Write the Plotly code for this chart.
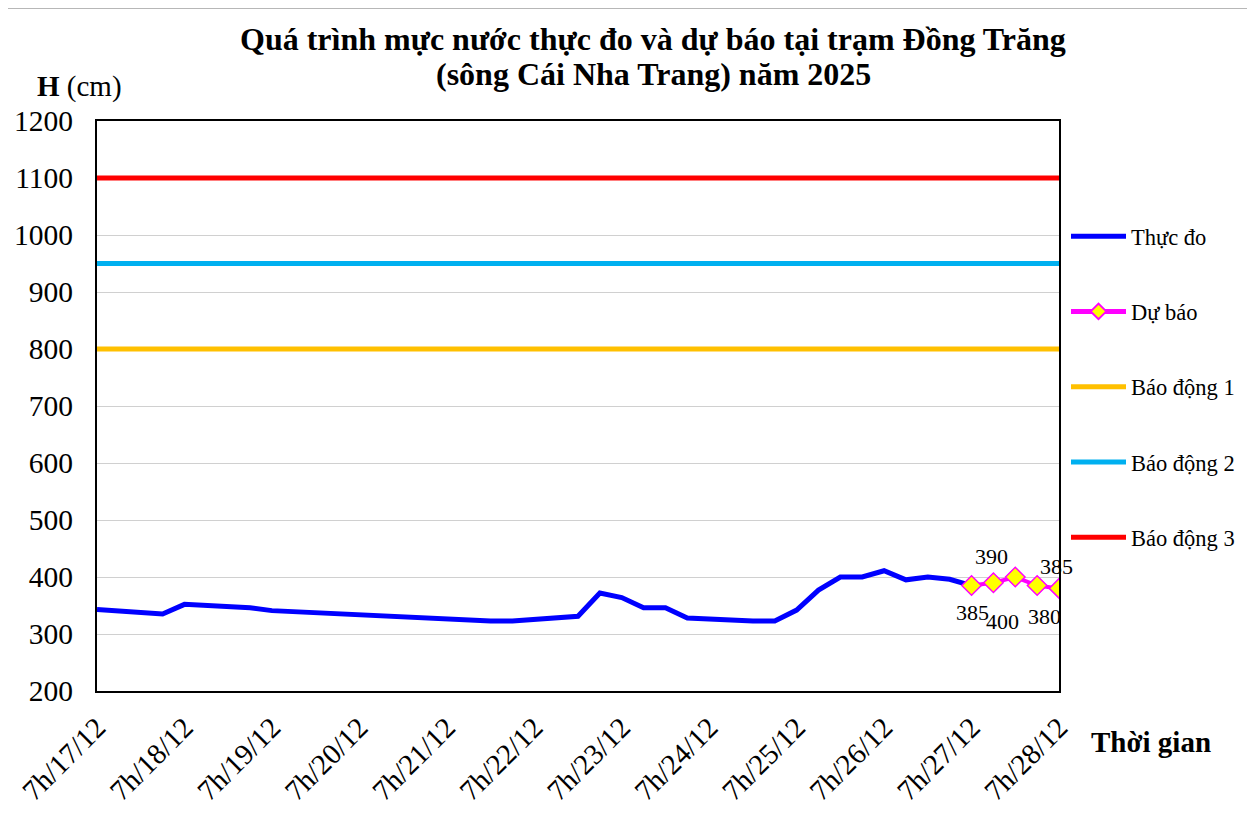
import plotly.graph_objects as go
import pandas as pd

# ---- data ----
times = pd.date_range("2025-12-17 07:00", periods=45, freq="6h")
measured = [343, 340, 338, 335, 352, 350, 348, 346, 341, 339, 337, 335, 333, 331, 329,
            327, 325, 323, 323, 323, 326, 328, 331, 372, 364, 346, 346, 328, 326, 325,
            323, 323, 342, 377, 400, 400, 411, 395, 400, 396, 385]
forecast = [385, 390, 400, 385, 380]
alarm_names = ["Báo động 1", "Báo động 2", "Báo động 3"]
alarm_levels = [800, 950, 1100]
alarm_colors = ["#FFC000", "#00B0F0", "#FF0000"]
tick_labels = ["7h/17/12", "7h/18/12", "7h/19/12", "7h/20/12", "7h/21/12", "7h/22/12",
               "7h/23/12", "7h/24/12", "7h/25/12", "7h/26/12", "7h/27/12", "7h/28/12"]

FONT = "Liberation Serif"

# page offset (browser body margin) compensation
OFF = 8
PL, PR, PT, PB = 97 - OFF, 1059 - OFF, 121 - OFF, 691 - OFF
W, H = 1255 - OFF, 829 - OFF
PW, PH = PR - PL, PB - PT


def px(x):
    return (x - OFF - PL) / PW


def py(y):
    return (PB - (y - OFF)) / PH


t_meas = list(times[:len(measured)])
t_fc = list(times[len(measured) - 1:len(measured) - 1 + len(forecast)])
tick_vals = list(times[::4])

fig = go.Figure()
fig.add_trace(go.Scatter(x=t_meas, y=measured, mode="lines", name="Thực đo",
                         line=dict(color="#0000FF", width=5), legendgroup="a"))
fig.add_trace(go.Scatter(x=t_fc, y=forecast, mode="lines+markers", name="Dự báo",
                         line=dict(color="#FF00FF", width=4),
                         marker=dict(symbol="diamond", size=15, color="#FFFF00",
                                     line=dict(color="#FF00FF", width=1.5)),
                         legendgroup="b"))
for i, (nm, lv, col) in enumerate(zip(alarm_names, alarm_levels, alarm_colors)):
    fig.add_trace(go.Scatter(x=[times[0], times[-1]], y=[lv, lv], mode="lines", name=nm,
                             line=dict(color=col, width=5), legendgroup="c%d" % i))

# forecast data labels
shifts = [(1, -27), (-2, 26), (-13, -44), (19, 19), (-15, -28)]
for t, v, (dx, dy) in zip(t_fc, forecast, shifts):
    fig.add_annotation(x=t, y=v, text=str(v), showarrow=False, xshift=dx, yshift=dy,
                       font=dict(family=FONT, size=22, color="black"))

# title and axis titles
fig.add_annotation(xref="paper", yref="paper", x=px(653), y=py(39), xanchor="center", yanchor="middle",
                   text="<b>Quá trình mực nước thực đo và dự báo tại trạm Đồng Trăng</b>",
                   showarrow=False, font=dict(family=FONT, size=32, color="black"))
fig.add_annotation(xref="paper", yref="paper", x=px(653), y=py(74), xanchor="center", yanchor="middle",
                   text="<b>(sông Cái Nha Trang) năm 2025</b>",
                   showarrow=False, font=dict(family=FONT, size=32, color="black"))
fig.add_annotation(xref="paper", yref="paper", x=px(79), y=py(86), xanchor="center", yanchor="middle",
                   text="<b>H</b> (cm)", showarrow=False,
                   font=dict(family=FONT, size=29, color="black"))
fig.add_annotation(xref="paper", yref="paper", x=px(1151), y=py(742), xanchor="center", yanchor="middle",
                   text="<b>Thời gian</b>", showarrow=False,
                   font=dict(family=FONT, size=29, color="black"))

# outer border
fig.add_shape(type="rect", xref="paper", yref="paper",
              x0=px(7), x1=px(1253), y0=py(835), y1=py(8),
              line=dict(color="#A0A0A0", width=1.5))

fig.update_layout(
    width=W, height=H,
    margin=dict(l=PL, r=W - PR, t=PT, b=H - PB, autoexpand=False),
    paper_bgcolor="white", plot_bgcolor="white",
    font=dict(family=FONT, color="black"),
    showlegend=True,
    legend=dict(x=px(1066), y=py(215), xanchor="left", yanchor="top",
                font=dict(family=FONT, size=22.5, color="black"),
                tracegroupgap=43, itemwidth=55, itemsizing="constant",
                bgcolor="rgba(0,0,0,0)"),
)
fig.update_xaxes(range=[times[0], times[-1]], tickvals=tick_vals, ticktext=tick_labels,
                 tickangle=-45, tickfont=dict(family=FONT, size=29, color="black"),
                 showgrid=False, showline=True, linecolor="black", linewidth=2,
                 mirror=True, ticks="", ticklabelstandoff=6, zeroline=False, automargin=False)
fig.update_yaxes(range=[200, 1200], dtick=100, tickfont=dict(family=FONT, size=29.5, color="black"),
                 showgrid=True, gridcolor="#D0D0D0", gridwidth=1,
                 showline=True, linecolor="black", linewidth=2, mirror=True,
                 ticks="", ticklabelstandoff=16, zeroline=False, automargin=False)

fig.write_html("out.html")
